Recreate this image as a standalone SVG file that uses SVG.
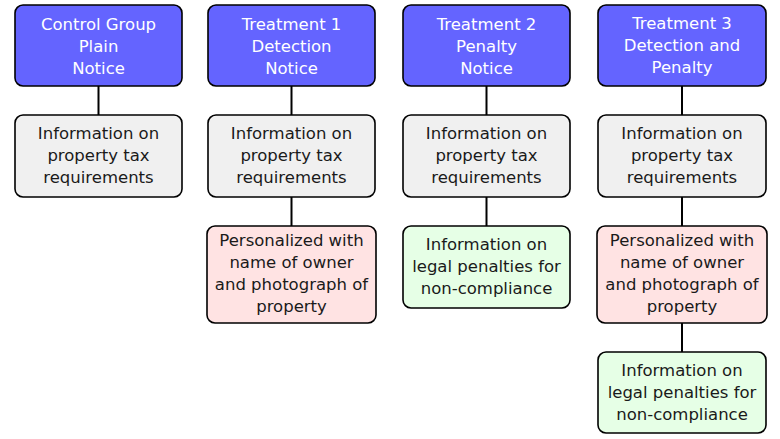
<svg xmlns="http://www.w3.org/2000/svg" width="780" height="439" viewBox="0 0 780 439">
<style>
.box{stroke:#000;stroke-width:1.6;}
.h{fill:#6464FF;}
.g{fill:#F0F0F0;}
.p{fill:#FFE3E3;}
.n{fill:#E6FFE6;}
text{font-family:"DejaVu Sans","Liberation Sans",sans-serif;font-size:16.5px;text-anchor:middle;fill:#1a1a1a;}
.w{fill:#fff;}
.c line{stroke:#000;stroke-width:2;}
</style>
<rect x="0" y="0" width="780" height="439" fill="#fff"/>
<g class="c" id="connectors">
<line x1="98.5" y1="86" x2="98.5" y2="115"/>
<line x1="291.5" y1="86" x2="291.5" y2="115"/>
<line x1="291.5" y1="197" x2="291.5" y2="226"/>
<line x1="486.5" y1="86" x2="486.5" y2="115"/>
<line x1="486.5" y1="197" x2="486.5" y2="226"/>
<line x1="682" y1="86" x2="682" y2="115"/>
<line x1="682" y1="197" x2="682" y2="226"/>
<line x1="682" y1="323" x2="682" y2="352"/>
</g>
<g id="control">
<rect class="box h" x="15" y="5" width="167" height="81" rx="8"/>
<text class="w" x="98.5" y="30">Control Group</text>
<text class="w" x="98.5" y="52">Plain</text>
<text class="w" x="98.5" y="74">Notice</text>
</g>
<g id="control-info">
<rect class="box g" x="15" y="115" width="167" height="82" rx="8"/>
<text x="98.5" y="139">Information on</text>
<text x="98.5" y="161">property tax</text>
<text x="98.5" y="183">requirements</text>
</g>
<g id="t1">
<rect class="box h" x="208" y="5" width="167" height="81" rx="8"/>
<text class="w" x="291.5" y="30">Treatment 1</text>
<text class="w" x="291.5" y="52">Detection</text>
<text class="w" x="291.5" y="74">Notice</text>
</g>
<g id="t1-info">
<rect class="box g" x="208" y="115" width="167" height="82" rx="8"/>
<text x="291.5" y="139">Information on</text>
<text x="291.5" y="161">property tax</text>
<text x="291.5" y="183">requirements</text>
</g>
<g id="t1-personal">
<rect class="box p" x="207" y="226" width="169" height="97" rx="8"/>
<text x="291.5" y="246">Personalized with</text>
<text x="291.5" y="268">name of owner</text>
<text x="291.5" y="290">and photograph of</text>
<text x="291.5" y="312">property</text>
</g>
<g id="t2">
<rect class="box h" x="403" y="5" width="167" height="81" rx="8"/>
<text class="w" x="486.5" y="30">Treatment 2</text>
<text class="w" x="486.5" y="52">Penalty</text>
<text class="w" x="486.5" y="74">Notice</text>
</g>
<g id="t2-info">
<rect class="box g" x="403" y="115" width="167" height="82" rx="8"/>
<text x="486.5" y="139">Information on</text>
<text x="486.5" y="161">property tax</text>
<text x="486.5" y="183">requirements</text>
</g>
<g id="t2-penalty">
<rect class="box n" x="403" y="226" width="167" height="82" rx="8"/>
<text x="486.5" y="250">Information on</text>
<text x="486.5" y="272">legal penalties for</text>
<text x="486.5" y="294">non-compliance</text>
</g>
<g id="t3">
<rect class="box h" x="598" y="5" width="168" height="81" rx="8"/>
<text class="w" x="682" y="29">Treatment 3</text>
<text class="w" x="682" y="51">Detection and</text>
<text class="w" x="682" y="73">Penalty</text>
</g>
<g id="t3-info">
<rect class="box g" x="598" y="115" width="168" height="82" rx="8"/>
<text x="682" y="139">Information on</text>
<text x="682" y="161">property tax</text>
<text x="682" y="183">requirements</text>
</g>
<g id="t3-personal">
<rect class="box p" x="597" y="226" width="170" height="97" rx="8"/>
<text x="682" y="246">Personalized with</text>
<text x="682" y="268">name of owner</text>
<text x="682" y="290">and photograph of</text>
<text x="682" y="312">property</text>
</g>
<g id="t3-penalty">
<rect class="box n" x="598" y="352" width="168" height="81" rx="8"/>
<text x="682" y="376">Information on</text>
<text x="682" y="398">legal penalties for</text>
<text x="682" y="420">non-compliance</text>
</g>
</svg>
